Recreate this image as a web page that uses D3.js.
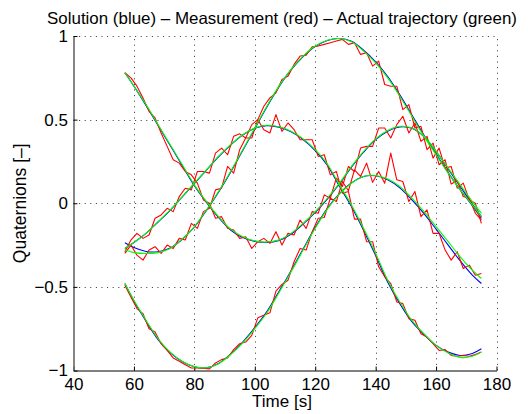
<!DOCTYPE html>
<html><head><meta charset="utf-8">
<script src="https://cdn.jsdelivr.net/npm/d3@7"></script>
<style>
html,body{margin:0;padding:0;background:#fff;}
svg{display:block;font-family:"Liberation Sans",Arial,Helvetica,sans-serif;}
</style>
</head><body>
<svg id="chart" width="528" height="414"></svg>
<script>
// ---------------- data ----------------
const titleText = "Solution (blue) \u2013 Measurement (red) \u2013 Actual trajectory (green)";
const xLabel = "Time [s]";
const yLabel = "Quaternions [\u2013]";
const xTicks = [40, 60, 80, 100, 120, 140, 160, 180];
const xTickLabels = ["40", "60", "80", "100", "120", "140", "160", "180"];
const yTicks = [-1, -0.5, 0, 0.5, 1];
const yTickLabels = ["\u22121", "\u22120.5", "0", "0.5", "1"];

// times of the smooth curves (solution and actual trajectory)
const tFit = [57,60,64,68,72,76,80,84,88,92,96,100,104,108,112,116,120,124,128,132,136,140,144,148,152,156,160,164,168,172,175];
// times of the measurements
const tMeas = [57,59,61,63,65,67,69,71,73,75,77,79,81,83,85,87,89,91,93,95,97,99,101,103,105,107,109,111,113,115,117,119,121,123,125,127,129,131,133,135,137,139,141,143,145,147,149,151,153,155,157,159,161,163,165,167,169,171,173,175];

// actual trajectory (green)
const q1Actual = [0.78,0.70,0.59,0.47,0.35,0.23,0.11,0.01,-0.08,-0.155,-0.20,-0.225,-0.232,-0.22,-0.18,-0.12,-0.05,0.03,0.12,0.22,0.31,0.385,0.435,0.46,0.45,0.40,0.31,0.21,0.11,0.01,-0.06];
const q2Actual = [-0.28,-0.295,-0.30,-0.295,-0.27,-0.215,-0.14,-0.04,0.07,0.19,0.32,0.45,0.58,0.70,0.80,0.88,0.94,0.975,0.985,0.965,0.91,0.84,0.75,0.64,0.52,0.40,0.29,0.18,0.08,-0.01,-0.08];
const q3Actual = [-0.27,-0.235,-0.18,-0.11,-0.04,0.04,0.12,0.20,0.28,0.35,0.41,0.45,0.466,0.457,0.43,0.385,0.32,0.235,0.11,-0.01,-0.15,-0.30,-0.46,-0.59,-0.70,-0.78,-0.85,-0.895,-0.922,-0.915,-0.89];
const q4Actual = [-0.48,-0.58,-0.70,-0.81,-0.89,-0.945,-0.977,-0.984,-0.96,-0.905,-0.835,-0.75,-0.655,-0.535,-0.41,-0.28,-0.15,-0.035,0.055,0.12,0.16,0.166,0.145,0.10,0.03,-0.05,-0.14,-0.23,-0.32,-0.40,-0.45];

// solution (blue)
const q1Solution = [0.78,0.70,0.585,0.465,0.345,0.225,0.105,0.005,-0.085,-0.16,-0.205,-0.228,-0.234,-0.222,-0.185,-0.125,-0.055,0.025,0.115,0.215,0.305,0.38,0.43,0.456,0.448,0.398,0.31,0.205,0.10,-0.005,-0.08];
const q2Solution = [-0.236,-0.265,-0.288,-0.29,-0.268,-0.215,-0.142,-0.043,0.066,0.186,0.316,0.446,0.576,0.696,0.797,0.877,0.937,0.973,0.985,0.968,0.915,0.846,0.758,0.648,0.528,0.407,0.295,0.183,0.08,-0.015,-0.09];
const q3Solution = [-0.27,-0.235,-0.18,-0.112,-0.042,0.038,0.118,0.198,0.278,0.348,0.408,0.448,0.464,0.455,0.427,0.381,0.315,0.228,0.102,-0.02,-0.162,-0.313,-0.472,-0.60,-0.708,-0.785,-0.85,-0.89,-0.91,-0.898,-0.87];
const q4Solution = [-0.48,-0.585,-0.705,-0.815,-0.893,-0.947,-0.978,-0.984,-0.958,-0.902,-0.83,-0.744,-0.648,-0.528,-0.403,-0.273,-0.144,-0.03,0.058,0.122,0.16,0.164,0.14,0.092,0.02,-0.062,-0.155,-0.25,-0.345,-0.43,-0.48];

// measurement (red)
const q1Meas = [0.78,0.75,0.70,0.63,0.55,0.51,0.42,0.34,0.26,0.24,0.19,0.17,0.12,0.02,0.00,-0.09,-0.08,-0.15,-0.16,-0.21,-0.20,-0.27,-0.23,-0.21,-0.24,-0.17,-0.25,-0.18,-0.19,-0.10,-0.15,-0.05,-0.06,0.05,0.03,0.15,0.10,0.22,0.19,0.33,0.34,0.34,0.45,0.45,0.39,0.47,0.52,0.42,0.48,0.37,0.40,0.27,0.33,0.21,0.22,0.09,0.12,0.02,0.00,-0.12];
const q2Meas = [-0.30,-0.25,-0.31,-0.34,-0.28,-0.26,-0.30,-0.25,-0.27,-0.21,-0.22,-0.12,-0.15,-0.05,-0.03,0.08,0.09,0.22,0.18,0.32,0.39,0.39,0.50,0.58,0.63,0.66,0.74,0.76,0.83,0.88,0.885,0.935,0.94,0.95,0.96,0.97,0.98,0.95,0.96,0.89,0.90,0.82,0.85,0.71,0.70,0.70,0.56,0.59,0.45,0.46,0.32,0.36,0.23,0.26,0.115,0.135,0.04,0.03,-0.06,-0.10];
const q3Meas = [-0.29,-0.22,-0.18,-0.21,-0.19,-0.09,-0.07,-0.03,-0.05,0.04,0.09,0.08,0.19,0.19,0.18,0.30,0.33,0.29,0.40,0.415,0.39,0.47,0.50,0.44,0.42,0.53,0.43,0.48,0.44,0.38,0.38,0.38,0.28,0.29,0.17,0.19,0.06,0.07,-0.095,-0.095,-0.23,-0.23,-0.38,-0.44,-0.48,-0.59,-0.60,-0.69,-0.70,-0.78,-0.80,-0.84,-0.88,-0.875,-0.91,-0.915,-0.91,-0.915,-0.905,-0.89];
const q4Meas = [-0.49,-0.56,-0.63,-0.66,-0.75,-0.77,-0.84,-0.88,-0.925,-0.945,-0.965,-0.985,-0.985,-0.987,-0.99,-0.955,-0.935,-0.925,-0.875,-0.84,-0.83,-0.79,-0.685,-0.67,-0.655,-0.525,-0.485,-0.46,-0.35,-0.27,-0.28,-0.17,-0.09,-0.085,0.03,0.01,0.13,0.075,0.20,0.16,0.24,0.125,0.19,0.12,0.30,0.14,0.13,0.01,0.07,-0.08,-0.04,-0.18,-0.18,-0.28,-0.34,-0.29,-0.39,-0.37,-0.43,-0.42];

const solutionSeries = [q1Solution, q2Solution, q3Solution, q4Solution];
const measSeries = [q1Meas, q2Meas, q3Meas, q4Meas];
const actualSeries = [q1Actual, q2Actual, q3Actual, q4Actual];

// ---------------- drawing ----------------
const svg = d3.select("#chart");
const W = 528, H = 414;
const x = d3.scaleLinear().domain([40, 180]).range([73.5, 496.5]);
const y = d3.scaleLinear().domain([-1, 1]).range([370.5, 36]);
const FS = 17;

svg.append("rect").attr("width", W).attr("height", H).attr("fill", "#fff");

// grid
const grid = svg.append("g").attr("stroke", "#333").attr("stroke-width", 1)
  .attr("stroke-dasharray", "1,4.6").attr("fill", "none");
xTicks.filter(v => v !== 40).forEach(v => {
  grid.append("line").attr("x1", Math.round(x(v)) + 0.5).attr("x2", Math.round(x(v)) + 0.5)
    .attr("y1", y(-1)).attr("y2", y(1));
});
yTicks.filter(v => v !== -1).forEach(v => {
  grid.append("line").attr("y1", Math.round(y(v)) + 0.5).attr("y2", Math.round(y(v)) + 0.5)
    .attr("x1", x(40)).attr("x2", x(180));
});

// axes
const xAxis = d3.axisBottom(x).tickValues(xTicks)
  .tickFormat((d, i) => xTickLabels[i]).tickSize(-4).tickSizeOuter(0).tickPadding(7);
const yAxis = d3.axisLeft(y).tickValues(yTicks)
  .tickFormat((d, i) => yTickLabels[i]).tickSize(-4).tickSizeOuter(0).tickPadding(5.5);

const gx = svg.append("g").attr("transform", `translate(0,${y(-1)})`).call(xAxis);
const gy = svg.append("g").attr("transform", `translate(${x(40)},0)`).call(yAxis);
[gx, gy].forEach(g => {
  g.selectAll("text").attr("font-size", FS).attr("fill", "#000")
    .attr("font-family", '"Liberation Sans",Arial,sans-serif');
  g.selectAll("line").attr("stroke", "#000");
  g.select(".domain").attr("stroke", "#000");
});
gy.select(".domain").attr("stroke", "#666").attr("stroke-width", 1.6);

// lines
const lineFit = d3.line().x((d, i) => x(tFit[i])).y(d => y(d)).curve(d3.curveCatmullRom.alpha(0.5));
const lineMeas = d3.line().x((d, i) => x(tMeas[i])).y(d => y(d));

const plot = svg.append("g").attr("fill", "none").attr("stroke-width", 1.1).attr("stroke-linejoin", "round");
solutionSeries.forEach(s => plot.append("path").attr("d", lineFit(s)).attr("stroke", "#0000ff"));
measSeries.forEach(s => plot.append("path").attr("d", lineMeas(s)).attr("stroke", "#ff0000"));
actualSeries.forEach(s => plot.append("path").attr("d", lineFit(s)).attr("stroke", "#00ff00"));

// texts (font size fitted so that each text spans the same width as in the reference)
function fitText(sel, targetWidth) {
  const w = sel.node().getComputedTextLength();
  if (w > 0) sel.attr("font-size", FS * targetWidth / w);
}
const title = svg.append("text").attr("x", 282).attr("y", 23.5)
  .attr("text-anchor", "middle").attr("font-size", FS).text(titleText);
fitText(title, 470);
const xl = svg.append("text").attr("x", 282).attr("y", 407)
  .attr("text-anchor", "middle").attr("font-size", FS).text(xLabel);
fitText(xl, 60);
const yl = svg.append("text").attr("transform", `translate(26,${(y(-1) + y(1)) / 2}) rotate(-90)`)
  .attr("text-anchor", "middle").attr("font-size", FS).text(yLabel);
fitText(yl, 120);
</script>
</body></html>
